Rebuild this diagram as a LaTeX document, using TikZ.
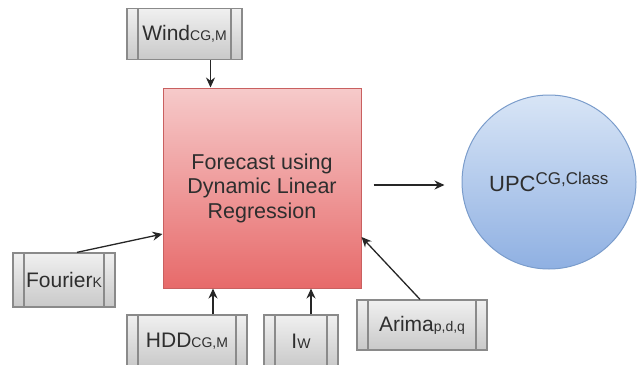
\documentclass[tikz,border=0pt]{standalone}
\usepackage{fontspec}
\setmainfont{Liberation Sans}
\usetikzlibrary{positioning,calc,arrows.meta}

\definecolor{boxedge}{HTML}{8A8A8A}
\definecolor{boxtop}{HTML}{F0F0F0}
\definecolor{boxbot}{HTML}{C9C9C9}
\definecolor{fcedge}{HTML}{C96060}
\definecolor{fctop}{HTML}{F6CACA}
\definecolor{fcbot}{HTML}{E76A6A}
\definecolor{upcedge}{HTML}{7A9CCB}
\definecolor{upctop}{HTML}{D8E5F6}
\definecolor{upcbot}{HTML}{8FB0E2}
\definecolor{labelgrey}{HTML}{2E2E2E}

\newcommand{\sml}[1]{{\fontsize{14}{15}\selectfont #1}}

\tikzset{
  inbox/.style={draw=boxedge, top color=boxtop, bottom color=boxbot,
    line width=1.3pt, minimum height=51, inner sep=0pt, text=labelgrey,
    font=\fontsize{21}{24}\selectfont,
    path picture={\draw[boxedge, line width=1.3pt]
      ($(path picture bounding box.north west)+(11,0)$) -- ($(path picture bounding box.south west)+(11,0)$)
      ($(path picture bounding box.north east)+(-11,0)$) -- ($(path picture bounding box.south east)+(-11,0)$);}},
  fcbox/.style={draw=fcedge, top color=fctop, bottom color=fcbot,
    line width=1pt, minimum width=198, minimum height=200, align=center,
    text=labelgrey, font=\fontsize{21.5}{24.5}\selectfont},
  upcnode/.style={circle, draw=upcedge, top color=upctop, bottom color=upcbot,
    line width=1pt, minimum size=174, inner sep=0pt, text=labelgrey,
    font=\fontsize{22}{24}\selectfont},
  link/.style={->, draw=black!85, line width=1.3pt}
}

\begin{document}
\begin{tikzpicture}[x=1pt, y=-1pt, >={Stealth[length=10pt,width=9pt]}]
  \useasboundingbox (0,0) rectangle (637,364);

  \node[fcbox] (fc) at (262,188) {Forecast using\\Dynamic Linear\\Regression};
  \node[upcnode] (upc) at (549,182) {UPC\textsuperscript{\fontsize{17}{18}\selectfont CG,Class}};

  \node[inbox, minimum width=115] (wind) at (184.5,34) {Wind\sml{CG,M}};
  \node[inbox, minimum width=102, minimum height=54] (fourier) at (64,280) {Fourier\sml{K}};
  \node[inbox, minimum width=120, minimum height=52] (hdd) at (187,341) {HDD\sml{CG,M}};
  \node[inbox, minimum width=74, minimum height=52] (iw) at (301,341) {I\sml{W}};
  \node[inbox, minimum width=130, minimum height=50] (arima) at (422,325) {Arima\sml{p,d,q}};

  % inputs
  \coordinate (windout) at ($(wind.south)+(26,0)$);
  \coordinate (hddout) at ($(hdd.north)+(26,0)$);
  \coordinate (iwout) at ($(iw.north)+(10,0)$);
  \draw[link] (windout) -- (windout |- fc.north);
  \draw[link] ($(fourier.north)+(13,0)$) -- ($(fc.west)+(0,46)$);
  \draw[link] (hddout) -- (hddout |- fc.south);
  \draw[link] (iwout) -- (iwout |- fc.south);
  \draw[link] ($(arima.north)+(-2,0)$) -- ($(fc.east)+(0,49)$);

  % output
  \coordinate (outstart) at ($(fc.east)+(12,-3)$);
  \coordinate (outend) at ($(upc.west)+(-17,0)$);
  \draw[link] (outstart) -- (outstart -| outend);
\end{tikzpicture}
\end{document}
